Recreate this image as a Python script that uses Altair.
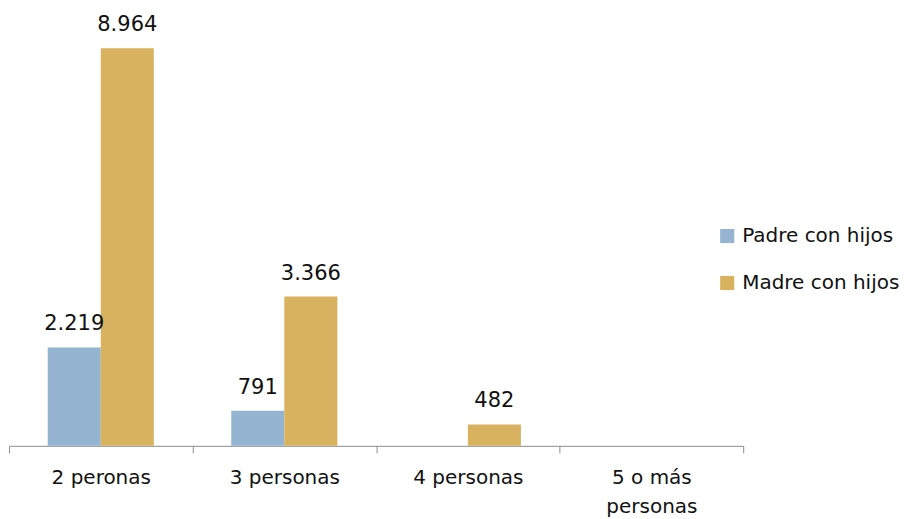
import altair as alt
import pandas as pd

categorias = ["2 peronas", "3 personas", "4 personas", "5 o más personas"]
series = ["Padre con hijos", "Madre con hijos"]
padre = [2219, 791, None, None]
madre = [8964, 3366, 482, None]
etiquetas_padre = ["2.219", "791", "", ""]
etiquetas_madre = ["8.964", "3.366", "482", ""]

rows = []
for c, v, l in zip(categorias, padre, etiquetas_padre):
    if v is not None:
        rows.append({"cat": c, "serie": series[0], "valor": v, "etiqueta": l})
for c, v, l in zip(categorias, madre, etiquetas_madre):
    if v is not None:
        rows.append({"cat": c, "serie": series[1], "valor": v, "etiqueta": l})
df = pd.DataFrame(rows)

FONT = "DejaVu Sans"

x = alt.X("cat:N", sort=categorias, scale=alt.Scale(domain=categorias, paddingInner=0, paddingOuter=0),
          axis=alt.Axis(title=None, labelAngle=0, tickBand="extent", domainColor="#8c8c8c",
                        tickColor="#8c8c8c", tickSize=7, labelPadding=15, labelFontSize=20,
                        labelFont=FONT, labelColor="#111111", labelLineHeight=29,
                        labelExpr="datum.label == '5 o más personas' ? ['5 o más', 'personas'] : datum.label"))
xo = alt.XOffset("serie:N", sort=series, scale=alt.Scale(domain=series, paddingInner=0, paddingOuter=0.73))
y = alt.Y("valor:Q", scale=alt.Scale(domain=[0, 9820]), axis=None)
color = alt.Color("serie:N", sort=series,
                  scale=alt.Scale(domain=series, range=["#94b4d2", "#d8b25e"]),
                  legend=alt.Legend(title=None, orient="none", legendX=709, legendY=216,
                                    symbolType="square", symbolSize=200, symbolStrokeWidth=0,
                                    labelFont=FONT, labelFontSize=20, labelColor="#111111",
                                    rowPadding=27, labelOffset=5))

bars = alt.Chart(df).mark_bar().encode(x=x, xOffset=xo, y=y, color=color)
text = alt.Chart(df).mark_text(dy=-23, font=FONT, fontSize=21, color="#111111").encode(
    x=x, xOffset=xo, y=y, text="etiqueta:N")

chart = alt.layer(bars, text).properties(
    width=735, height=436, padding={"left": 0, "top": 2, "right": 5, "bottom": 5}
).configure(font=FONT).configure_view(stroke=None)

chart.save("out.html", embed_options={"renderer": "svg", "actions": False})
